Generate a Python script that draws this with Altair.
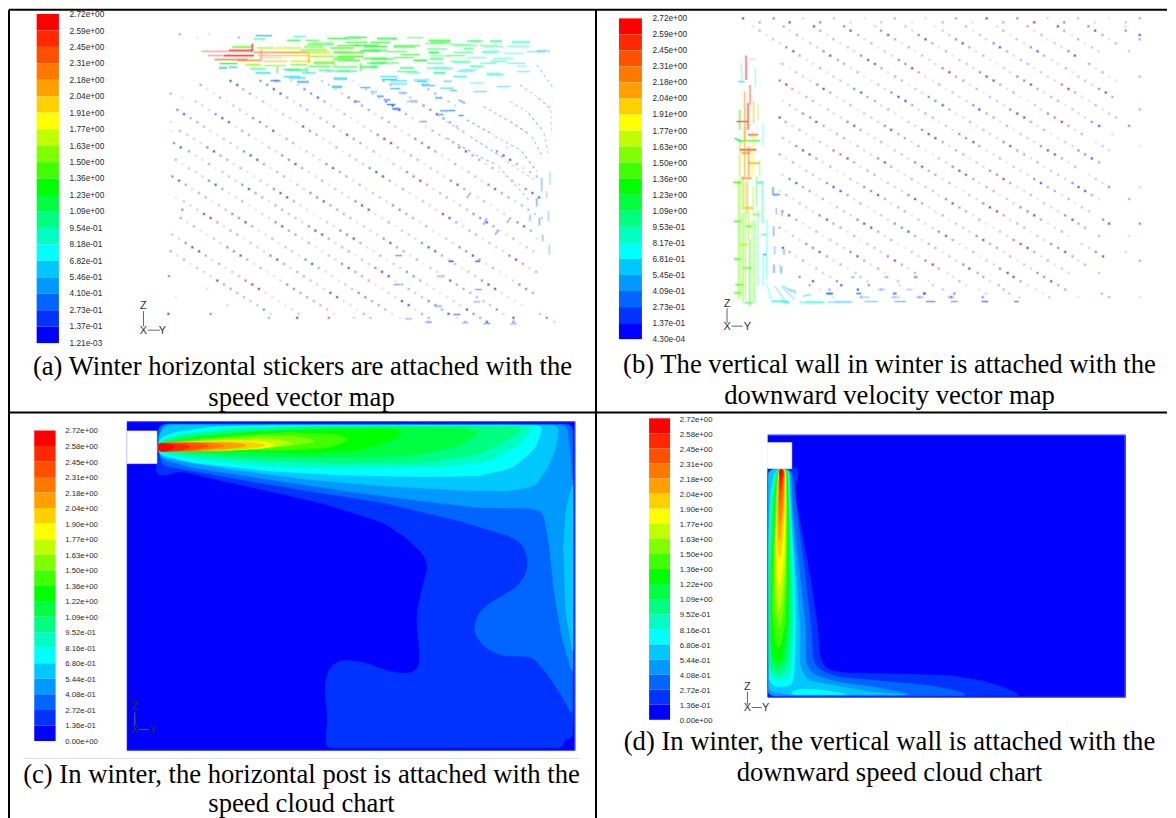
import altair as alt
import pandas as pd

alt.data_transformers.disable_max_rows()

W, H = 1160, 810
OX, OY = 8, 8

LEVELS = ["#ff0000", "#ff2800", "#ff5000", "#ff7800", "#ffa000", "#ffd000", "#ffff00", "#c0ff00", "#80ff00", "#40ff00",
          "#00ff00", "#00ff40", "#00ff80", "#00ffc0", "#00ffff", "#00c8ff", "#0099ff", "#0066ff", "#0033ff", "#0000ff"]

LABELS_A = ["2.72e+00", "2.59e+00", "2.45e+00", "2.31e+00", "2.18e+00", "2.04e+00", "1.91e+00", "1.77e+00", "1.63e+00", "1.50e+00", "1.36e+00",
            "1.23e+00", "1.09e+00", "9.54e-01", "8.18e-01", "6.82e-01", "5.46e-01", "4.10e-01", "2.73e-01", "1.37e-01", "1.21e-03"]
LABELS_B = ["2.72e+00", "2.59e+00", "2.45e+00", "2.31e+00", "2.18e+00", "2.04e+00", "1.91e+00", "1.77e+00", "1.63e+00", "1.50e+00", "1.36e+00",
            "1.23e+00", "1.09e+00", "9.53e-01", "8.17e-01", "6.81e-01", "5.45e-01", "4.09e-01", "2.73e-01", "1.37e-01", "4.30e-04"]
LABELS_C = ["2.72e+00", "2.58e+00", "2.45e+00", "2.31e+00", "2.18e+00", "2.04e+00", "1.90e+00", "1.77e+00", "1.63e+00", "1.50e+00", "1.36e+00",
            "1.22e+00", "1.09e+00", "9.52e-01", "8.16e-01", "6.80e-01", "5.44e-01", "4.08e-01", "2.72e-01", "1.36e-01", "0.00e+00"]
LABELS_D = list(LABELS_C)

CAPTIONS = [
    ("(a) Winter horizontal stickers are attached with the", 302, 366),
    ("speed vector map", 301, 397),
    ("(b) The vertical wall in winter is attached with the", 890, 364),
    ("downward velocity vector map", 890, 395),
    ("(c) In winter, the horizontal post is attached with the", 301, 775),
    ("speed cloud chart", 301, 804),
    ("(d) In winter, the vertical wall is attached with the", 890, 742),
    ("downward speed cloud chart", 890, 773),
]

# ---------- contour regions, panel c (read at zoom: x*2.613, (y-410)*3)
C_BASE = [(330, 32), (1502, 32), (1502, 1020), (330, 1020)]
C_BOX = [(330, 60), (408, 60), (408, 158), (330, 158)]
C_BANDS = [
    ("#0033ff", [(408, 160), (405, 185), (425, 195), (470, 180), (560, 205), (700, 240), (850, 280), (1000, 335), (1060, 380), (1105, 430), (1118, 465), (1108, 510),
                 (1095, 570), (1088, 620), (1092, 680), (1097, 740), (1092, 772), (1070, 790), (1020, 785), (950, 755), (890, 748), (860, 770), (848, 820), (850, 870), (855, 920), (850, 1012),
                 (1470, 1012), (1475, 985), (1495, 985), (1500, 900), (1498, 40), (420, 38), (410, 60)]),
    ("#0066ff", [(420, 160), (440, 167), (600, 200), (800, 240), (1000, 275), (1200, 330), (1330, 375), (1365, 400), (1380, 445), (1375, 490), (1350, 530), (1290, 570), (1255, 600), (1240, 640), (1240, 670), (1265, 710),
                 (1310, 735), (1390, 738), (1430, 790), (1470, 860), (1495, 915), (1496, 60), (1490, 40), (420, 40), (410, 60)]),
    ("#0099ff", [(415, 142), (500, 170), (700, 205), (900, 240), (1100, 270), (1250, 290), (1390, 292), (1420, 305), (1435, 400), (1450, 560), (1470, 690), (1496, 790),
                 (1497, 230), (1490, 130), (1480, 42), (420, 41)]),
    ("#00c8ff", [(414, 137), (600, 175), (800, 205), (1000, 225), (1200, 238), (1330, 240), (1400, 225), (1440, 150), (1455, 100), (1460, 43), (430, 42), (412, 75)]),
    ("#00c8ff", [(1497, 215), (1480, 290), (1472, 400), (1478, 600), (1497, 730)]),
    ("#00ffff", [(412, 130), (500, 155), (700, 180), (900, 193), (1100, 197), (1250, 195), (1340, 170), (1400, 110), (1418, 43), (700, 43), (550, 48), (450, 65), (412, 85)]),
    ("#00ffc0", [(412, 125), (520, 145), (700, 165), (900, 172), (1150, 168), (1280, 150), (1360, 100), (1395, 44), (800, 44), (600, 52), (470, 70), (412, 90)]),
    ("#00ff80", [(412, 120), (520, 135), (700, 150), (900, 158), (1100, 155), (1250, 130), (1340, 80), (1368, 46), (1000, 45), (800, 48), (600, 57), (480, 72), (415, 92)]),
    ("#00ff40", [(414, 118), (550, 128), (700, 137), (900, 140), (1080, 133), (1200, 105), (1255, 65), (1200, 50), (1050, 50), (850, 52), (650, 62), (500, 78), (418, 95)]),
    ("#00ff00", [(418, 115), (600, 120), (800, 125), (930, 120), (1020, 90), (1055, 65), (1030, 55), (850, 55), (650, 65), (500, 82), (418, 100)]),
    ("#40ff00", [(420, 113), (600, 115), (750, 118), (860, 110), (915, 85), (880, 70), (750, 65), (600, 75), (500, 85), (420, 100)]),
    ("#80ff00", [(420, 112), (600, 113), (750, 105), (830, 92), (790, 78), (680, 75), (550, 85), (420, 102)]),
    ("#c0ff00", [(420, 112), (560, 113), (700, 110), (770, 98), (720, 85), (620, 85), (500, 92), (420, 102)]),
    ("#ffff00", [(410, 119), (600, 118), (690, 112), (725, 102), (680, 92), (600, 90), (500, 95), (410, 98)]),
    ("#ffd000", [(410, 120), (590, 118), (670, 110), (700, 102), (660, 94), (590, 92), (500, 95), (410, 98)]),
    ("#ffa000", [(410, 121), (560, 117), (620, 110), (650, 103), (610, 96), (550, 94), (470, 96), (410, 98)]),
    ("#ff7800", [(410, 122), (520, 118), (565, 110), (590, 104), (560, 97), (500, 95), (410, 97)]),
    ("#ff5000", [(410, 122), (500, 118), (530, 110), (550, 105), (525, 98), (470, 96), (410, 97)]),
    ("#ff2800", [(410, 122), (470, 119), (490, 110), (495, 106), (480, 99), (440, 97), (410, 97)]),
    ("#ff0000", [(410, 122), (440, 119), (452, 110), (455, 106), (445, 100), (425, 98), (410, 97)]),
]

# ---------- contour regions, panel d (read at zoom: (x-600)*2.722, (y-410)*3)
D_BASE = [(458, 73), (1433, 73), (1433, 860), (458, 860)]
D_BOX = [(456, 95), (523, 95), (523, 173), (456, 173)]
D_BANDS = [
    ("#0033ff", [(458, 173), (523, 173), (538, 170), (541, 195), (530, 240), (545, 330), (570, 480), (590, 620), (600, 740), (615, 775), (660, 787), (800, 790), (950, 795), (1040, 810), (1100, 830), (1150, 855), (458, 857)]),
    ("#0066ff", [(458, 176), (523, 175), (530, 230), (540, 330), (560, 500), (575, 650), (580, 750), (600, 780), (650, 800), (800, 815), (900, 825), (970, 840), (1005, 855), (458, 856)]),
    ("#0099ff", [(459, 176), (520, 175), (525, 300), (545, 500), (560, 650), (560, 760), (585, 795), (650, 815), (750, 830), (850, 852), (459, 855)]),
    ("#00c8ff", [(460, 176), (518, 175), (522, 300), (535, 500), (545, 650), (545, 770), (565, 810), (640, 825), (740, 845), (840, 853), (515, 852), (480, 845), (460, 840)]),
    ("#00ffff", [(478, 175), (515, 175), (520, 300), (530, 500), (533, 650), (530, 780), (525, 825), (480, 830), (462, 815), (460, 400), (465, 250)]),
    ("#00ffff", [(515, 852), (540, 835), (600, 838), (680, 852)]),
    ("#00ffc0", [(480, 175), (513, 175), (518, 300), (525, 500), (528, 650), (522, 770), (510, 805), (480, 810), (462, 795), (460, 450), (468, 250)]),
    ("#00ff80", [(482, 175), (511, 175), (515, 300), (520, 500), (520, 650), (513, 760), (500, 790), (480, 795), (462, 770), (462, 500), (472, 250)]),
    ("#00ff40", [(484, 175), (510, 175), (513, 300), (516, 500), (515, 650), (505, 750), (490, 775), (475, 770), (464, 730), (465, 500), (475, 250)]),
    ("#00ff00", [(485, 175), (509, 175), (512, 300), (513, 500), (510, 650), (498, 740), (485, 755), (472, 740), (466, 650), (470, 450), (478, 250)]),
    ("#40ff00", [(486, 175), (508, 175), (510, 300), (510, 500), (505, 640), (490, 715), (478, 700), (470, 600), (473, 430), (480, 250)]),
    ("#80ff00", [(487, 175), (507, 175), (508, 300), (507, 480), (500, 600), (488, 660), (477, 590), (475, 430), (482, 250)]),
    ("#c0ff00", [(488, 175), (506, 175), (507, 300), (505, 450), (495, 570), (486, 610), (479, 530), (478, 400), (484, 250)]),
    ("#ffff00", [(489, 175), (505, 175), (505, 300), (502, 430), (492, 520), (485, 535), (481, 470), (481, 380), (485, 250)]),
    ("#ffd000", [(490, 175), (504, 175), (503, 300), (497, 400), (489, 450), (483, 400), (485, 250)]),
    ("#ffa000", [(490, 175), (503, 175), (501, 280), (493, 370), (488, 395), (485, 330), (487, 220)]),
    ("#ff7800", [(490, 175), (502, 175), (499, 270), (490, 345), (487, 280)]),
    ("#ff5000", [(490, 175), (501, 175), (497, 240), (490, 285), (489, 220)]),
    ("#ff2800", [(489, 175), (501, 175), (496, 220), (491, 245)]),
    ("#ff0000", [(488, 175), (500, 175), (496, 200), (492, 215)]),
]

# ---------- vector heads panel a, read at 3x zoom of (120,20)
ROWS_A = [
    (178, [330, 420, 512, 605, 697, 790, 885]), (190, [240, 350, 440, 532, 625, 717, 810, 905]),
    (203, [260, 368, 460, 552, 645, 737, 830, 925]), (216, [150, 280, 388, 480, 572, 665, 757, 850, 945]),
    (228, [185, 298, 408, 500, 592, 685, 777, 870, 965]), (240, [225, 318, 428, 520, 612, 705, 797, 890, 985]),
    (252, [245, 338, 448, 540, 632, 725, 817, 910, 1005]), (265, [170, 265, 358, 468, 560, 652, 745, 837, 930]),
    (278, [190, 285, 378, 488, 580, 672, 765, 857, 950]), (290, [210, 305, 398, 508, 600, 692, 785, 877, 970]),
    (302, [150, 230, 325, 418, 528, 620, 712, 805, 897, 990]), (315, [250, 345, 438, 548, 640, 732, 825, 917, 1010]),
    (328, [152, 178, 270, 365, 458, 568, 660, 752, 845, 937, 1030]), (340, [200, 290, 385, 478, 588, 680, 772, 865, 957]),
    (352, [220, 310, 405, 498, 608, 700, 792, 885, 977]), (365, [160, 240, 330, 425, 518, 628, 720, 812, 905, 997]),
    (378, [180, 260, 350, 445, 538, 648, 740, 832, 925, 1017, 1160]), (390, [205, 280, 370, 465, 558, 668, 760, 852, 945, 1037, 1130]),
    (402, [225, 300, 390, 485, 578, 688, 780, 872, 965, 1057, 1150]), (415, [165, 245, 320, 410, 505, 598, 708, 800, 892, 985, 1077, 1170]),
    (428, [185, 265, 340, 430, 525, 618, 728, 820, 912, 1005, 1097, 1190]), (440, [205, 285, 360, 450, 545, 638, 748, 840, 932, 1025, 1117, 1210]),
    (452, [225, 305, 380, 470, 565, 658, 768, 860, 952, 1045, 1137, 1230]), (465, [155, 245, 325, 400, 490, 585, 678, 788, 880, 972, 1065, 1157, 1250]),
    (478, [175, 265, 345, 420, 510, 605, 698, 808, 900, 992, 1085, 1177]), (490, [195, 285, 365, 440, 530, 625, 718, 828, 920, 1012, 1105, 1197]),
    (503, [215, 305, 385, 460, 550, 645, 738, 848, 940, 1032, 1125, 1217]), (515, [235, 325, 405, 480, 570, 665, 758, 868, 960, 1052, 1145, 1237]),
    (528, [165, 255, 345, 425, 500, 590, 685, 778, 888, 980, 1072, 1165, 1257]), (540, [190, 275, 365, 445, 520, 610, 705, 798, 908, 1000, 1092, 1185]),
    (552, [210, 295, 385, 465, 540, 630, 725, 818, 928, 1020, 1112, 1205]), (565, [185, 230, 315, 405, 485, 560, 650, 745, 838, 948, 1040, 1132, 1225]),
    (578, [250, 335, 425, 505, 580, 670, 765, 858, 968, 1060, 1152, 1245]), (590, [180, 270, 355, 445, 525, 600, 690, 785, 878, 988, 1080, 1172, 1265]),
    (603, [200, 290, 375, 465, 545, 620, 710, 805, 898, 1008, 1100, 1192]), (615, [220, 310, 395, 485, 565, 640, 730, 825, 918, 1028, 1120, 1212]),
    (628, [240, 330, 415, 505, 585, 660, 750, 845, 938, 1048, 1140, 1232]), (640, [155, 260, 350, 435, 525, 605, 680, 770, 865, 958, 1068, 1160]),
    (652, [175, 280, 370, 455, 545, 625, 700, 790, 885, 978, 1088, 1180, 1250]), (665, [195, 300, 390, 475, 565, 645, 720, 810, 905, 998, 1108, 1200]),
    (678, [215, 320, 410, 495, 585, 665, 740, 830, 925, 1018, 1128, 1220]), (690, [150, 235, 340, 430, 515, 605, 685, 760, 850, 945, 1038, 1148, 1240]),
    (703, [170, 255, 360, 450, 535, 625, 705, 780, 870, 965, 1058, 1168]), (715, [190, 275, 380, 470, 555, 645, 725, 800, 890, 985, 1078, 1188]),
    (728, [210, 295, 400, 490, 575, 665, 745, 820, 910, 1005, 1098, 1208]), (740, [230, 315, 420, 510, 595, 685, 765, 840, 930, 1025, 1118, 1228]),
    (752, [250, 335, 440, 530, 615, 705, 785, 860, 950, 1045, 1138, 1248]), (765, [145, 270, 355, 460, 550, 635, 725, 805, 880, 970, 1065, 1158]),
    (778, [290, 375, 480, 570, 655, 745, 825, 900, 990, 1085, 1178]), (790, [310, 395, 500, 590, 675, 765, 845, 920, 1010, 1105, 1198]),
    (803, [260, 330, 415, 520, 610, 695, 785, 865, 940, 1030, 1125, 1218]), (815, [350, 435, 540, 630, 715, 805, 885, 960, 1050, 1145, 1238]),
    (828, [165, 370, 455, 560, 650, 735, 825, 905, 980, 1070, 1165]), (840, [390, 475, 580, 670, 755, 845, 925, 1000, 1090, 1185]),
    (852, [320, 410, 495, 600, 690, 775, 865, 945, 1020, 1110, 1205]), (865, [430, 515, 620, 710, 795, 885, 965, 1040, 1130]),
    (878, [143, 270, 450, 535, 640, 730, 815, 905, 985, 1060, 1150, 1260]), (890, [445, 530, 625, 700, 750, 840, 925, 1010, 1080, 1180, 1280]),
    (902, [925, 1035, 1100, 1180, 1303]), (38, [177, 265]), (48, [230, 355]),
]

# ---------- vector heads panel b, read at 3x zoom of (780,10)
ROWS_B = [
    (20, [-110, -18, 70, 163, 255, 346, 438, 530, 622, 714, 805, 897, 990, 1082]), (32, [-60, 30, 122, 213, 305, 398, 490, 580, 672, 765, 855, 948, 1040]),
    (44, [-80, 12, 103, 194, 287, 378, 468, 560, 653, 745, 836, 928, 1040]), (57, [-60, 30, 122, 213, 305, 398, 490, 582, 672, 765, 855, 948, 1040]),
    (70, [-40, 52, 144, 236, 326, 418, 510, 602, 695, 787, 878, 970, 1082]), (83, [-20, 70, 162, 255, 347, 438, 530, 620, 712, 805, 897, 990, 1082]),
    (95, [0, 92, 183, 276, 367, 459, 550, 643, 735, 826, 918, 1010]), (107, [20, 113, 205, 296, 388, 478, 570, 662, 755, 847, 938]),
    (119, [41, 132, 224, 316, 407, 500, 590, 683, 775, 868, 958, 1050]), (132, [60, 152, 245, 337, 428, 520, 612, 703, 795, 887]),
    (145, [82, 175, 266, 358, 450, 540, 633, 725, 817]), (157, [8, 100, 193, 286, 378, 468, 562, 653, 745, 836, 930]),
    (170, [30, 122, 215, 306, 398, 490, 582, 673, 765, 860, 950]), (182, [50, 143, 234, 326, 418, 510, 602, 693, 785, 880, 970]),
    (195, [70, 162, 254, 347, 438, 530, 622, 714, 806, 898, 990, 1082]), (207, [0, 92, 183, 276, 367, 460, 552, 643, 735, 827, 918, 1010]),
    (219, [20, 113, 205, 296, 388, 480, 572, 663, 755, 848, 940]), (232, [38, 132, 224, 316, 408, 500, 592, 683, 775, 868, 960]),
    (243, [59, 152, 245, 336, 428, 520, 612, 703, 795, 888, 980]), (256, [80, 172, 264, 357, 448, 540, 632, 724, 816, 908, 1000]),
    (268, [10, 100, 193, 286, 378, 468, 562, 653, 745, 836, 930]), (281, [30, 122, 213, 305, 398, 490, 582, 673, 767, 858, 950]),
    (294, [50, 145, 236, 326, 418, 510, 600, 693, 785, 880, 972, 1082]), (306, [70, 162, 254, 347, 438, 530, 622, 714, 806, 898, 990]),
    (318, [0, 92, 184, 276, 367, 460, 552, 643, 735, 827, 918, 1010]), (331, [18, 110, 204, 296, 387, 478, 572, 662, 755, 848, 938]),
    (343, [39, 132, 224, 316, 407, 500, 592, 683, 775, 868, 960, 1050]), (355, [60, 152, 243, 335, 428, 520, 612, 703, 795, 888]),
    (368, [80, 172, 264, 357, 448, 540, 632, 724, 816, 908, 1000]), (380, [10, 100, 193, 285, 376, 468, 560, 653, 745, 837]),
    (392, [30, 122, 213, 305, 397, 490, 582, 673, 765, 858, 950]), (404, [50, 142, 234, 325, 417, 510, 600, 693, 785, 880, 970, 1082]),
    (417, [70, 162, 254, 346, 438, 530, 622, 714, 806, 898, 990]), (429, [0, 90, 183, 275, 367, 460, 552, 643, 735, 827, 918]),
    (441, [20, 110, 204, 296, 387, 478, 572, 662, 755, 848, 938]), (453, [40, 130, 224, 316, 407, 500, 592, 683, 775, 868, 960]),
    (466, [60, 152, 243, 335, 428, 520, 612, 703, 795, 888]), (478, [80, 172, 264, 356, 448, 540, 632, 724, 816]),
    (490, [8, 100, 193, 285, 376, 468, 560, 653, 745, 837, 930]), (503, [30, 120, 213, 305, 397, 490, 582, 673, 765, 858, 950]),
    (515, [50, 142, 234, 325, 417, 510, 600, 693, 785, 880, 970]), (527, [70, 162, 254, 346, 438, 530, 622, 714, 806, 898, 990, 1082]),
    (539, [0, 90, 183, 275, 367, 460, 552, 643, 735, 827, 918]), (551, [20, 110, 204, 296, 387, 478, 570, 662, 755, 848, 938]),
    (563, [40, 130, 224, 316, 407, 500, 592, 683, 775, 868, 960, 1050]), (576, [60, 152, 243, 335, 428, 520, 612, 703, 795, 888]),
    (588, [80, 172, 264, 356, 448, 540, 632, 724, 816, 908]), (600, [8, 100, 193, 285, 376, 468, 560, 653, 745, 837, 930]),
    (612, [28, 120, 213, 305, 397, 490, 582, 673, 765, 858]), (625, [50, 142, 234, 325, 417, 510, 600, 693, 785, 880, 972]),
    (637, [70, 162, 254, 346, 438, 530, 622, 714, 806, 898, 990, 1082]), (649, [0, 90, 183, 275, 367, 460, 552, 643, 735, 827, 918]),
    (661, [20, 110, 204, 296, 387, 478, 570, 662, 755, 848]), (674, [40, 130, 224, 316, 407, 500, 592, 683, 775, 868, 960, 1050]),
    (686, [60, 152, 243, 335, 428, 520, 612, 703, 795]), (698, [80, 172, 264, 356, 448, 540, 632, 724, 816, 908]),
    (710, [10, 100, 193, 285, 376, 468, 560, 653, 745, 837, 930]), (722, [30, 120, 213, 305, 397, 490, 582, 673, 765, 858, 950, 1040]),
    (735, [50, 142, 234, 325, 417, 510, 600, 693, 785, 880, 972]), (748, [70, 162, 254, 346, 438, 530, 622, 714, 806, 898, 1082]),
    (760, [90, 183, 275, 367, 460, 552, 643, 735, 827, 918]), (772, [110, 204, 296, 387, 478, 570, 662, 755, 848]),
    (785, [130, 228, 316, 407, 505, 595, 685, 775, 868, 960]), (797, [60, 152, 243, 322, 408, 520, 612, 703, 795]),
    (810, [100, 172, 264, 356, 448, 540, 632, 724, 816]), (822, [90, 185, 268, 360, 460, 560, 658, 745, 837]),
    (835, [120, 150, 235, 305, 390, 490, 600, 673, 770, 858]), (847, [150, 240, 345, 435, 525, 620, 690, 790, 968]),
    (858, [160, 245, 345, 420, 515, 610, 720, 810, 897, 990, 1082]),
]

# ---------- horizontal streaks of the attached jet, panel a
JET_A1 = [  # x1, x2, y, colour at 3x zoom of (190,28)
    (195, 245, 18, "#40b8ff"), (310, 345, 20, "#60ffd0"), (190, 225, 28, "#40ffa0"), (290, 330, 32, "#30ff50"), (345, 385, 32, "#60ff60"), (460, 510, 25, "#60ff80"),
    (465, 530, 38, "#50ff50"), (365, 430, 40, "#80ff80"), (125, 185, 52, "#40ff00"), (200, 250, 55, "#a0ff00"), (255, 330, 55, "#c0ff00"), (340, 400, 52, "#70ff20"),
    (420, 490, 55, "#40ff00"), (490, 565, 47, "#30ff30"), (32, 185, 65, "#ff9090"), (115, 185, 62, "#ff3030"), (190, 350, 68, "#ff9000"), (350, 420, 68, "#c0ff00"),
    (430, 520, 68, "#50ff10"), (520, 565, 62, "#50ff50"), (52, 190, 78, "#ffa0a0"), (100, 190, 78, "#ff3030"), (200, 290, 78, "#ffc080"), (290, 355, 78, "#ffe000"),
    (360, 430, 80, "#a0ff00"), (440, 520, 80, "#40ff00"), (72, 170, 90, "#ff8040"), (140, 210, 92, "#ff9000"), (220, 290, 95, "#ffd040"), (300, 360, 95, "#ffe000"),
    (370, 430, 98, "#80ff00"), (440, 510, 92, "#40ff20"), (87, 140, 102, "#20ff20"), (165, 210, 105, "#a0ff00"), (220, 285, 108, "#a0ff40"), (300, 350, 105, "#80ff40"),
    (355, 420, 110, "#50ff50"), (430, 500, 112, "#50ff50"), (510, 565, 112, "#50ff90"), (85, 110, 115, "#00bfff"), (115, 140, 113, "#40c0ff"), (180, 225, 118, "#40ff80"),
    (280, 330, 120, "#00ffa0"), (385, 420, 122, "#40ffa0"), (440, 500, 125, "#40ffc0"), (195, 240, 130, "#00e0ff"), (335, 375, 130, "#20ffc0"), (295, 345, 145, "#40d0ff"),
    (430, 470, 148, "#00e0ff"), (320, 355, 158, "#60c0ff"), (425, 455, 172, "#20a0ff"), (240, 265, 153, "#6080ff"), (210, 250, 70, "#ffc0c0"), (215, 275, 84, "#ffd0c0"),
]
JET_A1_V = [  # x, y1, y2, colour at the same zoom
    (185, 42, 65, "#ff2020"), (355, 68, 100, "#ffb000"), (430, 88, 110, "#80ff40"), (260, 110, 130, "#40ff80"), (212, 60, 95, "#ff9090"), (350, 112, 130, "#60ff80"), (510, 100, 125, "#60ff60"),
]
JET_A2 = [  # x1, x2, y, colour at 3x zoom of (370,28)
    (20, 80, 27, "#60ff90"), (0, 60, 38, "#40ff40"), (70, 135, 52, "#30ff30"), (0, 50, 62, "#40ff60"), (175, 240, 32, "#40ff40"), (300, 330, 35, "#40ffa0"), (360, 395, 35, "#40ffa0"),
    (425, 480, 38, "#60ffd0"), (165, 220, 42, "#80ff80"), (240, 300, 45, "#80ffa0"), (330, 385, 48, "#80ffc0"), (410, 470, 50, "#90ffe0"), (175, 205, 68, "#00ff40"), (90, 150, 75, "#60ff60"),
    (230, 285, 78, "#80ff80"), (280, 310, 57, "#60ff80"), (340, 390, 65, "#80ffc0"), (0, 70, 88, "#30ff50"), (130, 170, 92, "#00ff30"), (180, 220, 88, "#30ff60"), (240, 300, 95, "#80ffa0"),
    (360, 410, 95, "#60ffc0"), (0, 50, 100, "#30ff60"), (30, 85, 100, "#60ff70"), (90, 130, 115, "#20ff60"), (170, 235, 115, "#60ffa0"), (300, 340, 110, "#40ffa0"), (0, 20, 112, "#00ff80"),
    (190, 225, 130, "#00ff80"), (110, 150, 130, "#60ffc0"), (260, 310, 125, "#60ffe0"), (350, 400, 135, "#40ffe0"), (35, 80, 150, "#00e0ff"), (140, 170, 155, "#00d0ff"), (220, 245, 155, "#40e0ff"),
    (60, 110, 163, "#60e0ff"), (300, 340, 160, "#80f0ff"), (155, 195, 168, "#40d0ff"), (0, 20, 187, "#60d0ff"), (60, 90, 177, "#40c8ff"), (240, 260, 183, "#60c0ff"), (20, 40, 200, "#4090ff"),
    (85, 110, 190, "#60b0ff"), (195, 215, 205, "#20a0ff"), (50, 75, 225, "#3080ff"), (65, 85, 238, "#5080ff"), (120, 140, 215, "#80a0ff"), (235, 255, 243, "#30a0ff"), (205, 220, 255, "#60a0ff"),
    (265, 280, 258, "#4090ff"), (500, 525, 65, "#60d0ff"), (440, 470, 110, "#a0f0ff"),
]
JET_A3 = [  # x1, x2, y, colour at 3x zoom of (120,20)
    (1040, 1090, 58, "#60ff80"), (1110, 1145, 58, "#60ffb0"), (1175, 1230, 60, "#80ffe0"), (930, 990, 62, "#40ff60"), (1000, 1070, 72, "#80ffa0"), (1090, 1150, 75, "#80ffc0"), (1170, 1230, 75, "#a0ffe0"),
    (920, 980, 82, "#60ff80"), (1000, 1060, 92, "#60ffb0"), (1085, 1130, 92, "#60ffc0"), (1150, 1210, 95, "#80ffe0"), (1220, 1270, 90, "#80f0ff"), (930, 990, 103, "#80ffa0"), (1040, 1100, 108, "#80ffd0"),
    (1120, 1180, 110, "#80ffe0"), (920, 970, 125, "#60ffb0"), (1000, 1050, 122, "#60ffd0"), (1080, 1130, 125, "#60ffe0"), (1160, 1215, 125, "#80f0ff"), (940, 1000, 140, "#60ffe0"), (1020, 1070, 145, "#60f0ff"),
    (1100, 1140, 155, "#80f0ff"), (1190, 1230, 150, "#80f0ff"), (1250, 1290, 88, "#80d8ff"), (1000, 1040, 165, "#60e0ff"), (960, 1000, 200, "#60d0ff"), (1060, 1100, 210, "#80d8ff"), (1130, 1170, 195, "#80e0ff"),
    (880, 930, 175, "#60f0ff"), (810, 860, 178, "#40e0ff"), (620, 680, 50, "#40ff40"), (680, 740, 47, "#30ff40"), (770, 830, 50, "#50ff60"), (860, 910, 48, "#80ff80"), (560, 640, 68, "#50ff60"),
    (650, 720, 72, "#50ff40"), (730, 800, 75, "#30ff30"), (820, 900, 72, "#60ff60"), (540, 620, 85, "#60ff40"), (640, 690, 92, "#60ff50"), (720, 780, 88, "#30ff30"), (800, 860, 90, "#60ff60"),
    (640, 700, 110, "#30ff30"), (730, 800, 110, "#40ff40"), (820, 880, 108, "#60ff70"), (740, 790, 125, "#50ff60"), (580, 640, 125, "#60ff60"), (500, 560, 145, "#30ff60"), (620, 690, 148, "#50ff90"),
    (830, 890, 150, "#60ffa0"), (720, 770, 135, "#60ff80"), (490, 540, 165, "#40e0ff"), (640, 680, 170, "#50e0ff"), (780, 830, 165, "#50e8ff"),
]
DASHED_A = [  # x1, y1, x2, y2, colour at 3x zoom of (120,20): broken curved streaks near the far wall
    (950, 280, 1040, 340, "#8fc4ff"), (1050, 345, 1150, 410, "#7fb8ff"), (1160, 420, 1250, 480, "#a0d0ff"), (1090, 255, 1160, 295, "#7fc0ff"), (1170, 300, 1230, 340, "#60a8ff"), (1235, 345, 1265, 400, "#80c8ff"),
    (1170, 240, 1220, 270, "#90d0ff"), (1225, 275, 1270, 330, "#70b8ff"), (1272, 335, 1285, 400, "#90d8ff"), (1200, 190, 1250, 225, "#80d8ff"), (1255, 230, 1290, 260, "#70c0ff"), (1292, 265, 1295, 340, "#a0e0ff"),
    (1250, 130, 1300, 200, "#90d0ff"), (1040, 295, 1120, 340, "#6fa8ff"), (1125, 345, 1200, 385, "#90c0ff"), (1205, 390, 1250, 450, "#70b0ff"), (980, 350, 1060, 395, "#80a8ff"), (1065, 400, 1130, 430, "#90b0ff"),
    (1135, 435, 1230, 540, "#a0c0ff"),
]
STREAK_A = [  # x1, y1, x2, y2, colour at 3x zoom of (120,20)
    (1265, 470, 1265, 510, "#80c0ff"), (1250, 530, 1250, 555, "#60b0ff"), (1290, 450, 1290, 490, "#a0e0ff"), (1280, 510, 1280, 530, "#a0d0ff"), (1230, 580, 1230, 600, "#80c0ff"),
    (1258, 590, 1258, 612, "#70b0ff"), (1268, 640, 1268, 660, "#80c0ff"), (1285, 570, 1285, 600, "#a0d0ff"), (1288, 670, 1288, 700, "#a0d0ff"), (1170, 590, 1160, 605, "#80a8ff"), (1135, 625, 1125, 640, "#8090ff"),
    (1100, 590, 1090, 610, "#9090ff"), (1050, 515, 1040, 530, "#9098ff"), (820, 262, 840, 262, "#5080ff"), (900, 300, 920, 300, "#70a0ff"), (720, 198, 750, 198, "#40c0ff"), (790, 235, 810, 235, "#4090ff"),
    (700, 240, 720, 240, "#80a0ff"), (860, 240, 890, 240, "#a0c0ff"), (960, 268, 985, 268, "#5090ff"), (1015, 235, 1035, 245, "#60a0ff"), (905, 188, 925, 188, "#40d0ff"), (635, 195, 665, 195, "#50d0ff"),
    (530, 180, 565, 180, "#60c0ff"), (460, 178, 480, 178, "#5090ff"), (855, 893, 875, 893, "#a0a8ff"), (915, 903, 935, 903, "#8090ff"), (1025, 905, 1045, 905, "#a0b0ff"), (1090, 907, 1110, 907, "#8098ff"),
    (1170, 908, 1190, 908, "#a0b0ff"), (945, 855, 965, 855, "#9098ff"), (1000, 880, 1020, 880, "#7080ff"), (1065, 805, 1085, 805, "#9098ff"), (1060, 842, 1080, 842, "#a0a8ff"), (825, 703, 845, 703, "#8088ff"),
    (950, 765, 970, 765, "#a0a8ff"), (985, 720, 1000, 720, "#2030ff"), (1065, 720, 1080, 720, "#4050ff"), (820, 790, 840, 790, "#9098ff"),
]

# ---------- the plume, panel b
PLUME_B1 = [  # x1, y1, x2, y2, colour at 3x zoom of (725,45)
    (64, 27, 64, 100, "#ff5050"), (50, 50, 52, 110, "#80ffff"), (76, 115, 76, 175, "#ff8060"), (60, 135, 60, 280, "#ffb060"), (92, 65, 92, 120, "#a0ffe0"), (87, 165, 87, 230, "#ffd060"), (70, 170, 70, 250, "#ff5020"),
    (45, 190, 45, 250, "#60ff40"), (100, 175, 100, 220, "#c0ff80"), (60, 240, 60, 390, "#ffc040"), (85, 255, 85, 390, "#ffff40"), (45, 280, 45, 390, "#c0ff40"), (72, 300, 72, 390, "#ffa040"), (105, 340, 105, 390, "#c0ff80"),
    (115, 230, 115, 300, "#a0ffff"), (35, 225, 70, 225, "#ff5040"), (70, 265, 100, 265, "#ff5030"), (30, 275, 50, 285, "#00e0a0"), (45, 310, 95, 310, "#ff3020"), (40, 283, 105, 283, "#40ff20"), (70, 350, 105, 350, "#ffa000"),
    (50, 320, 75, 320, "#ff8000"), (40, 105, 60, 105, "#60e0ff"), (75, 38, 95, 38, "#d0e0ff"),
]
PLUME_B2 = [  # x1, y1, x2, y2, colour at 3x zoom of (725,175)
    (42, 10, 42, 370, "#a0ff60"), (55, 0, 55, 100, "#ffd040"), (68, 15, 68, 110, "#ffd040"), (70, 100, 70, 190, "#c0ff40"), (85, 30, 85, 120, "#c0ff80"), (55, 110, 55, 380, "#a0ff60"), (75, 190, 75, 390, "#80ff60"),
    (95, 0, 95, 90, "#a0ffa0"), (100, 100, 100, 330, "#a0ffc0"), (113, 15, 113, 140, "#80ffe0"), (127, 130, 125, 310, "#90ffff"), (115, 230, 115, 330, "#90ffff"), (25, 18, 50, 18, "#40ff00"), (50, 5, 80, 5, "#ff8000"),
    (55, 95, 85, 95, "#ffb000"), (28, 135, 50, 135, "#30ff10"), (65, 150, 85, 150, "#40ff20"), (45, 205, 70, 205, "#a0ff00"), (28, 248, 50, 248, "#30ff10"), (55, 275, 80, 275, "#40ff20"), (32, 325, 55, 325, "#40ff20"),
    (28, 350, 48, 350, "#30ff10"), (60, 380, 85, 380, "#40ff80"), (95, 18, 115, 18, "#40ffa0"), (85, 115, 105, 115, "#80ff40"), (140, 375, 190, 375, "#00ffff"), (225, 378, 300, 378, "#60ffe0"), (310, 378, 385, 378, "#80e0ff"),
    (145, 55, 165, 55, "#4080ff"), (145, 32, 145, 55, "#6090ff"), (125, 320, 140, 370, "#a0ffff"), (150, 330, 180, 370, "#a0e0ff"), (170, 330, 210, 370, "#a0e0ff"), (147, 150, 147, 180, "#80b0ff"), (148, 265, 148, 290, "#60a0ff"),
    (170, 270, 170, 290, "#80b0ff"), (155, 95, 155, 115, "#a0c0ff"), (172, 105, 172, 120, "#a0b0ff"), (150, 210, 150, 235, "#a0c0ff"), (178, 220, 178, 235, "#80a0ff"), (115, 235, 125, 235, "#40a0ff"), (110, 175, 125, 175, "#80d0ff"),
    (190, 340, 215, 345, "#80c8ff"), (235, 360, 260, 355, "#80d8ff"), (305, 352, 325, 352, "#4090ff"), (62, 15, 62, 370, "#c0ff70"), (48, 20, 48, 360, "#c0ff90"), (82, 130, 82, 385, "#c0ff90"), (90, 130, 90, 380, "#a0ffa0"),
]
STREAK_B = [  # x1, y1, x2, y2, colour at 3x zoom of (780,10)
    (0, 870, 30, 875, "#30ffd0"), (80, 872, 130, 874, "#60ffe0"), (165, 871, 210, 871, "#70f0ff"), (255, 871, 295, 871, "#70d8ff"), (345, 871, 380, 871, "#70c0ff"), (440, 871, 468, 871, "#6090ff"),
    (515, 871, 535, 871, "#70a0ff"), (607, 871, 627, 871, "#5070ff"), (705, 871, 718, 871, "#6070ff"), (140, 847, 160, 847, "#1090ff"), (230, 847, 245, 847, "#1090ff"), (340, 847, 352, 847, "#3090ff"),
    (430, 847, 440, 847, "#3080ff"), (240, 858, 270, 858, "#a0c8ff"), (335, 858, 360, 858, "#a0c0ff"), (410, 858, 432, 858, "#a0b8ff"), (505, 858, 525, 858, "#a0b0ff"), (295, 835, 320, 835, "#c0d0ff"),
    (380, 835, 400, 835, "#c0d0ff"), (215, 798, 225, 798, "#80a0ff"), (315, 798, 327, 798, "#90a8ff"), (403, 798, 415, 798, "#8090ff"), (0, 760, 5, 790, "#a0e0ff"), (10, 825, 50, 848, "#80e8ff"),
]

# ---------- helpers that turn zoom readings into page pixels


def page(x, y, ox, oy, kx=3.0, ky=3.0):
    return ox + x / kx, oy + y / ky


def round_corners(pts, limit=10.0, passes=3):
    """Soften the corners of a hand-read outline, as a smooth curve would; long straight runs stay straight."""
    for _ in range(passes):
        out = []
        n = len(pts)
        for i in range(n):
            (x0, y0), (x1, y1) = pts[i], pts[(i + 1) % n]
            d = ((x1 - x0) ** 2 + (y1 - y0) ** 2) ** 0.5 or 1.0
            t = min(0.25, limit / d)
            out.append((x0 + (x1 - x0) * t, y0 + (y1 - y0) * t))
            out.append((x1 - (x1 - x0) * t, y1 - (y1 - y0) * t))
        pts = out
        limit *= 0.5
    return pts


C_Z = dict(ox=0, oy=410, kx=2.613)
D_Z = dict(ox=600, oy=410, kx=2.722)


def feature(color, pts, z, smooth=True):
    src = round_corners(pts) if smooth else pts
    ring = [list(page(x, y, **z)) for x, y in src]
    ring.append(ring[0])
    return {"type": "Feature", "properties": {"color": color}, "geometry": {"type": "Polygon", "coordinates": [ring]}}


features = [feature("#0000ff", C_BASE, C_Z, False)] + [feature(c, p, C_Z) for c, p in C_BANDS] + [feature("#ffffff", C_BOX, C_Z, False)]
features += [feature("#0000ff", D_BASE, D_Z, False)] + [feature(c, p, D_Z) for c, p in D_BANDS] + [feature("#ffffff", D_BOX, D_Z, False)]

TONES = ["#5a5aff", "#b4b4fa", "#d4d4fc", "#a8a8f8", "#e4e4fe", "#8c8cf8", "#dcdcfd", "#c4c4fb"]
dots = []
for rows, z in ((ROWS_A, dict(ox=120, oy=20)), (ROWS_B, dict(ox=780, oy=10))):
    for r, (zy, xs) in enumerate(rows):
        for i, zx in enumerate(xs):
            px, py = page(zx, zy, **z)
            dots.append({"x": px, "y": py, "c": TONES[(r * 3 + i * 5) % len(TONES)]})


def seg(rows, z, out):
    for x1, y1, x2, y2, c in rows:
        a, b = page(x1, y1, **z), page(x2, y2, **z)
        out.append({"x": a[0], "y": a[1], "x2": b[0], "y2": b[1], "c": c})


segs, dashed = [], []
seg([(a, y, b, y, c) for a, b, y, c in JET_A1], dict(ox=190, oy=28), segs)
seg([(a, y, b, y, c) for a, b, y, c in JET_A2], dict(ox=370, oy=28), segs)
seg([(a, y, b, y, c) for a, b, y, c in JET_A3], dict(ox=120, oy=20), segs)
seg([(x, a, x, b, c) for x, a, b, c in JET_A1_V], dict(ox=190, oy=28), segs)
seg(STREAK_A, dict(ox=120, oy=20), segs)
seg(PLUME_B1, dict(ox=725, oy=45), segs)
seg(PLUME_B2, dict(ox=725, oy=175), segs)
seg(STREAK_B, dict(ox=780, oy=10), segs)
seg(DASHED_A, dict(ox=120, oy=20), dashed)

# ---------- legend strips
strips = [
    (LABELS_A, 35.7, 58, 12.3, 342, 68.7, 13.5, 342.5, 8.3),
    (LABELS_B, 619, 642, 16.7, 338, 652.5, 17.5, 339, 8.3),
    (LABELS_C, 33.3, 54.7, 429.5, 740.5, 64.3, 430.5, 741.5, 7.8),
    (LABELS_D, 649.2, 670.2, 417.3, 719.3, 680, 419, 720.3, 7.8),
]
bars, ticks = [], []
for labels, x0, x1, top, bot, lx, ly0, ly1, fs in strips:
    for i, col in enumerate(LEVELS):
        bars.append({"x": x0, "x2": x1, "y": top + (bot - top) * i / 20, "y2": top + (bot - top) * (i + 1) / 20, "c": col})
    for i, t in enumerate(labels):
        ticks.append({"x": lx, "y": ly0 + (ly1 - ly0) * i / 20, "t": t, "fs": fs})

triads = [
    (142.7, 305, 142.7, 330, 161.7, 330, 142.7, 310, 325, 147, 159, 329),
    (727.3, 302.7, 727.3, 326, 747.7, 326, 727.3, 307, 322, 731.7, 743, 325),
    (134, 706.7, 134, 729.3, 152.3, 729.3, 134, 712, 725, 138, 148, 729),
    (747.7, 686, 747.7, 708, 766, 708, 747.7, 691, 704, 752, 762, 707),
]
tri_text, tri_lines = [], []
for zx, zy, xx, xy, yx, yy, vx, v0, v1, h0, h1, hy in triads:
    tri_text += [{"x": zx, "y": zy, "t": "Z"}, {"x": xx, "y": xy, "t": "X"}, {"x": yx, "y": yy, "t": "Y"}]
    tri_lines += [{"x": vx, "y": v0, "x2": vx, "y2": v1}, {"x": h0, "y": hy, "x2": h1, "y2": hy}]

frame = [
    {"x": 8, "y": 8, "x2": 8, "y2": 818}, {"x": 596, "y": 8, "x2": 596, "y2": 818},
    {"x": 8, "y": 8, "x2": 1168, "y2": 8}, {"x": 8, "y": 411.5, "x2": 1168, "y2": 411.5},
]
edges = [
    {"x": 768, "y": 434, "x2": 1126, "y2": 434}, {"x": 1126, "y": 434, "x2": 1126, "y2": 696.7},
    {"x": 768, "y": 696.7, "x2": 1126, "y2": 696.7}, {"x": 768, "y": 467.5, "x2": 768, "y2": 696.7},
    {"x": 126.3, "y": 750, "x2": 575, "y2": 750}, {"x": 575, "y": 420.7, "x2": 575, "y2": 750},
    {"x": 126.3, "y": 420.7, "x2": 575, "y2": 420.7},
]

# ---------- chart
xs = alt.Scale(domain=[OX, OX + W], range=[0, W], nice=False, zero=False)
ys = alt.Scale(domain=[OY, OY + H], range=[0, H], nice=False, zero=False)
X = alt.X("x:Q", scale=xs, axis=None)
Y = alt.Y("y:Q", scale=ys, axis=None)

regions = alt.Chart(alt.Data(values=features)).mark_geoshape(strokeWidth=0.6).encode(
    fill=alt.Fill("properties.color:N", scale=None, legend=None),
    stroke=alt.Stroke("properties.color:N", scale=None, legend=None),
).project(type="identity", scale=1, translate=[-OX, -OY])

FILL = alt.Fill("c:N", scale=None, legend=None)
STROKE = alt.Stroke("c:N", scale=None, legend=None)
dots_df, segs_df, dash_df = pd.DataFrame(dots), pd.DataFrame(segs), pd.DataFrame(dashed)

edge_layer = alt.Chart(pd.DataFrame(edges)).mark_rule(color="#4a5cff", strokeWidth=1).encode(x=X, y=Y, x2="x2:Q", y2="y2:Q")
dot_halo = alt.Chart(dots_df).mark_square(size=10, opacity=0.3).encode(x=X, y=Y, fill=FILL)
dot_layer = alt.Chart(dots_df).mark_square(size=3, opacity=1).encode(x=X, y=Y, fill=FILL)
seg_halo = alt.Chart(segs_df).mark_rule(strokeWidth=3.2, opacity=0.22).encode(x=X, y=Y, x2="x2:Q", y2="y2:Q", stroke=STROKE)
seg_layer = alt.Chart(segs_df).mark_rule(strokeWidth=1.1, opacity=0.8).encode(x=X, y=Y, x2="x2:Q", y2="y2:Q", stroke=STROKE)
dash_layer = alt.Chart(dash_df).mark_rule(strokeWidth=1.3, opacity=0.75, strokeDash=[3, 3]).encode(x=X, y=Y, x2="x2:Q", y2="y2:Q", stroke=STROKE)
bar_layer = alt.Chart(pd.DataFrame(bars)).mark_rect().encode(x=X, y=Y, x2="x2:Q", y2="y2:Q", fill=FILL)
tick_layer = alt.Chart(pd.DataFrame(ticks)).mark_text(align="left", baseline="middle", font="Liberation Sans", color="#2a2a2a").encode(
    x=X, y=Y, text="t:N", size=alt.Size("fs:Q", scale=None, legend=None))
tri_line_layer = alt.Chart(pd.DataFrame(tri_lines)).mark_rule(color="#666666", strokeWidth=1).encode(x=X, y=Y, x2="x2:Q", y2="y2:Q")
tri_text_layer = alt.Chart(pd.DataFrame(tri_text)).mark_text(align="center", baseline="middle", font="Liberation Sans", fontSize=11, color="#333333").encode(x=X, y=Y, text="t:N")
frame_layer = alt.Chart(pd.DataFrame(frame)).mark_rule(color="#000000", strokeWidth=2).encode(x=X, y=Y, x2="x2:Q", y2="y2:Q")
rule_c = alt.Chart(pd.DataFrame([{"x": 23, "y": 758, "x2": 579, "y2": 758}])).mark_rule(color="#dddddd", strokeWidth=1).encode(x=X, y=Y, x2="x2:Q", y2="y2:Q")
cap_df = pd.DataFrame([{"t": t, "x": x, "y": y} for t, x, y in CAPTIONS])
cap_layer = alt.Chart(cap_df).mark_text(align="center", baseline="middle", font="Liberation Serif", fontSize=26.7, color="#000000").encode(x=X, y=Y, text="t:N")

chart = alt.layer(regions, edge_layer, dot_halo, dot_layer, seg_halo, seg_layer, dash_layer, bar_layer, tick_layer, tri_line_layer, tri_text_layer, rule_c, frame_layer, cap_layer).properties(
    width=W, height=H, padding=0, background="#ffffff"
).configure_view(stroke=None)

chart.save("out.html", embed_options={"renderer": "svg", "actions": False})
